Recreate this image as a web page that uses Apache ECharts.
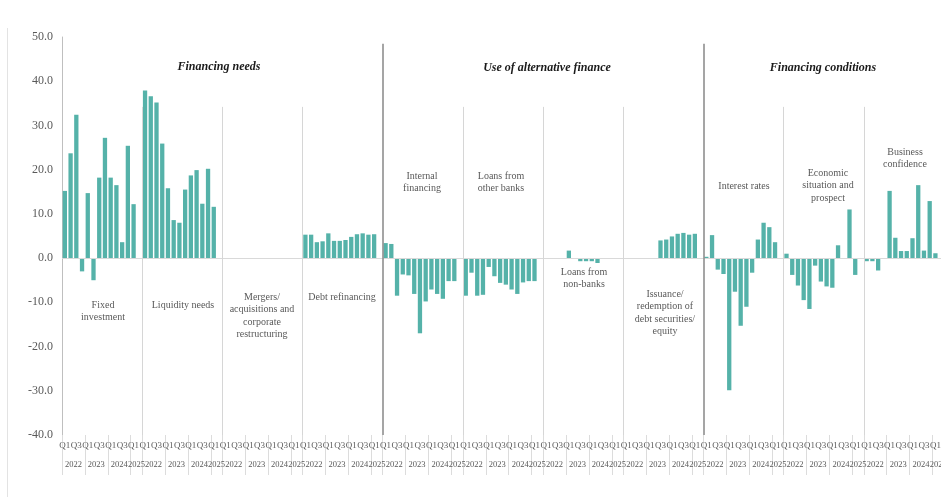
<!DOCTYPE html>
<html>
<head>
<meta charset="utf-8">
<script src="https://cdn.jsdelivr.net/npm/echarts@6/dist/echarts.min.js"></script>
<style>
html, body { margin: 0; padding: 0; background: #fff; }
#main { width: 941px; height: 497px; }
</style>
</head>
<body>
<div id="main"></div>
<script>
// 14 slots per panel: 2022 Q1 .. 2025 Q1, last slot (2025 Q2) left empty
var periods = ['2022 Q1', '2022 Q2', '2022 Q3', '2022 Q4', '2023 Q1', '2023 Q2', '2023 Q3', '2023 Q4',
    '2024 Q1', '2024 Q2', '2024 Q3', '2024 Q4', '2025 Q1', '2025 Q2'];
var yearLabelSlots = [1, 5, 9, 12];
var yearTickSlots = [0, 4, 8, 12];

var groups = ['Fixed investment', 'Liquidity needs', 'Mergers/acquisitions', 'Debt refinancing',
    'Internal financing', 'Loans from other banks', 'Loans from non-banks', 'Issuance/redemption',
    'Interest rates', 'Economic situation', 'Business confidence'];

var fixedInvestment = [15.2, 23.7, 32.4, -3.0, 14.7, -5.0, 18.2, 27.2, 18.2, 16.5, 3.6, 25.4, 12.2, null];
var liquidityNeeds = [37.9, 36.6, 35.2, 25.9, 15.8, 8.6, 8.0, 15.5, 18.7, 19.9, 12.3, 20.2, 11.6, null];
var mergers = [0, 0, 0, 0, 0, 0, 0, 0, 0, 0, 0, 0, 0, null];
var debtRefinancing = [5.3, 5.3, 3.6, 3.8, 5.6, 3.9, 3.9, 4.1, 4.8, 5.4, 5.6, 5.3, 5.4, null];
var internalFinancing = [3.4, 3.2, -8.5, -3.7, -3.9, -8.1, -17.0, -9.8, -7.1, -8.1, -9.2, -5.2, -5.2, null];
var otherBanks = [-8.5, -3.3, -8.5, -8.3, -2.0, -4.1, -5.6, -6.0, -7.1, -8.1, -5.5, -5.2, -5.2, null];
var nonBanks = [0, 0, 0, 0, 1.7, 0, -0.7, -0.7, -0.7, -1.1, 0, 0, 0, null];
var issuance = [0, 0, 0, 0, 0, 0, 4.0, 4.2, 4.9, 5.5, 5.7, 5.3, 5.5, null];
var interestRates = [0.3, 5.2, -2.6, -3.6, -29.9, -7.6, -15.3, -11.0, -3.3, 4.2, 8.0, 7.0, 3.6, null];
var economic = [1.0, -3.8, -6.2, -9.5, -11.5, -1.7, -5.3, -6.4, -6.7, 2.9, 0, 11.0, -3.8, null];
var business = [-0.7, -0.7, -2.8, 0, 15.2, 4.6, 1.6, 1.6, 4.5, 16.5, 1.7, 12.9, 1.1, null];

var groupValues = [fixedInvestment, liquidityNeeds, mergers, debtRefinancing, internalFinancing,
    otherBanks, nonBanks, issuance, interestRates, economic, business];

// panel boundaries (in panels); major ones split the three sections
var majorBreaks = [4, 8];

var categories = [];
var values = [];
groups.forEach(function (g, gi) {
    periods.forEach(function (p, pi) {
        categories.push(g + '|' + p);
        values.push(groupValues[gi][pi]);
    });
});
var nSlot = periods.length;
var nTotal = categories.length;

var dividerLines = [];
for (var b = 1; b < groups.length; b++) {
    var major = majorBreaks.indexOf(b) >= 0;
    dividerLines.push([
        { coord: [b * nSlot, major ? 48.5 : 34.2],
          lineStyle: { color: major ? '#8f8f8f' : '#d6d6d6', width: major ? 1.6 : 1, type: 'solid' } },
        { coord: [b * nSlot, -40] }
    ]);
}

var serif = 'Liberation Serif';
var grey = '#595959';

function txt(text, x, y, opts) {
    opts = opts || {};
    return {
        type: 'text',
        x: x, y: y,
        silent: true,
        style: {
            text: text,
            align: 'center',
            verticalAlign: 'top',
            fontFamily: serif,
            fontSize: opts.size || 10,
            fontWeight: opts.bold ? 'bold' : 'normal',
            fontStyle: opts.italic ? 'italic' : 'normal',
            fill: opts.color || grey,
            lineHeight: 12.4
        }
    };
}

var chart = echarts.init(document.getElementById('main'));
var option = {
    animation: false,
    backgroundColor: '#fff',
    grid: { left: 62, right: -3, top: 37, bottom: 62, outerBoundsMode: 'none', containLabel: false },
    xAxis: [
        {
            type: 'category',
            data: categories,
            position: 'bottom',
            axisLine: { show: false, onZero: false },
            axisTick: {
                show: true,
                length: 40,
                interval: function (i) { return yearTickSlots.indexOf(i % nSlot) >= 0; },
                lineStyle: { color: '#dcdcdc' }
            },
            axisLabel: {
                interval: 1,
                margin: 6,
                fontFamily: serif,
                fontSize: 9,
                color: grey,
                formatter: function (v) { return v.split('|')[1].split(' ')[1]; }
            }
        },
        {
            type: 'category',
            data: categories,
            position: 'bottom',
            offset: 19,
            axisLine: { show: false },
            axisTick: { show: false },
            axisLabel: {
                interval: function (i) { return yearLabelSlots.indexOf(i % nSlot) >= 0; },
                margin: 6,
                formatter: function (v) { return '{y|' + v.split('|')[1].split(' ')[0] + '}'; },
                rich: {
                    y: { fontFamily: serif, fontSize: 8.5, color: grey, padding: [0, 0, 0, 5.7] }
                }
            }
        },
        { type: 'value', min: 0, max: nTotal, show: false }
    ],
    yAxis: {
        type: 'value',
        min: -40,
        max: 50,
        interval: 10,
        axisLine: { show: true, lineStyle: { color: '#bfbfbf' } },
        axisTick: { show: false },
        splitLine: { show: false },
        axisLabel: {
            margin: 9,
            fontFamily: serif,
            fontSize: 12,
            color: grey,
            formatter: function (v) { return v.toFixed(1); }
        }
    },
    series: [
        {
            type: 'bar',
            data: values,
            barCategoryGap: '25%',
            itemStyle: { color: '#55B2A9' },
            markLine: {
                silent: true,
                symbol: 'none',
                label: { show: false },
                lineStyle: { color: '#d9d9d9', width: 1, type: 'solid' },
                data: [{ yAxis: 0 }]
            }
        },
        {
            type: 'line',
            xAxisIndex: 2,
            data: [],
            markLine: {
                silent: true,
                symbol: 'none',
                label: { show: false },
                data: dividerLines
            }
        }
    ],
    graphic: [
        { type: 'line', silent: true, shape: { x1: 7.5, y1: 28, x2: 7.5, y2: 497 }, style: { stroke: '#e3e3e3', lineWidth: 1 } },
        txt('Financing needs', 219, 61, { size: 12, bold: true, italic: true, color: '#1a1a1a' }),
        txt('Use of alternative finance', 547, 62, { size: 12, bold: true, italic: true, color: '#1a1a1a' }),
        txt('Financing conditions', 823, 62, { size: 12, bold: true, italic: true, color: '#1a1a1a' }),
        txt('Fixed\ninvestment', 103, 299),
        txt('Liquidity needs', 183, 299),
        txt('Mergers/\nacquisitions and\ncorporate\nrestructuring', 262, 291),
        txt('Debt refinancing', 342, 291),
        txt('Internal\nfinancing', 422, 170),
        txt('Loans from\nother banks', 501, 170),
        txt('Loans from\nnon-banks', 584, 266),
        txt('Issuance/\nredemption of\ndebt securities/\nequity', 665, 288),
        txt('Interest rates', 744, 180),
        txt('Economic\nsituation and\nprospect', 828, 167),
        txt('Business\nconfidence', 905, 146)
    ]
};
chart.setOption(option);
</script>
</body>
</html>
